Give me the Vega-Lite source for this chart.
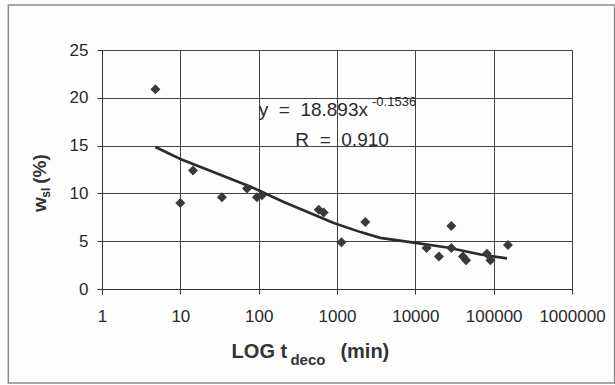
{
  "$schema": "https://vega.github.io/schema/vega-lite/v6.json",
  "width": 470,
  "height": 239,
  "autosize": {"type": "none"},
  "padding": {"left": 102, "top": 50, "right": 43, "bottom": 96},
  "background": "#fdfdfd",
  "config": {
    "view": {"stroke": "#333333", "strokeWidth": 1},
    "axis": {
      "labelFont": "Liberation Sans",
      "labelFontSize": 17,
      "labelColor": "#2a2a2a",
      "gridColor": "#444444",
      "gridWidth": 1,
      "gridOpacity": 1,
      "domainColor": "#333333",
      "tickColor": "#333333",
      "tickSize": 5
    },
    "text": {"font": "Liberation Sans", "color": "#2a2a2a"}
  },
  "datasets": {
    "pts": [
      {"t": 4.8, "w": 20.9}, {"t": 10, "w": 9.0}, {"t": 14.5, "w": 12.4},
      {"t": 34, "w": 9.6}, {"t": 71, "w": 10.5}, {"t": 95, "w": 9.6},
      {"t": 110, "w": 9.8}, {"t": 585, "w": 8.3}, {"t": 676, "w": 8.0},
      {"t": 1140, "w": 4.9}, {"t": 2300, "w": 7.0}, {"t": 13900, "w": 4.3},
      {"t": 20000, "w": 3.4}, {"t": 28800, "w": 6.6}, {"t": 28800, "w": 4.3},
      {"t": 40500, "w": 3.4}, {"t": 44400, "w": 3.0}, {"t": 82000, "w": 3.7},
      {"t": 91000, "w": 3.0}, {"t": 152000, "w": 4.6}
    ],
    "fit": [
      {"t": 4.8, "w": 14.85}, {"t": 10, "w": 13.6}, {"t": 79, "w": 10.7},
      {"t": 209, "w": 9.1}, {"t": 910, "w": 6.9}, {"t": 2000, "w": 5.95},
      {"t": 3560, "w": 5.35}, {"t": 9550, "w": 4.85}, {"t": 25600, "w": 4.35},
      {"t": 68000, "w": 3.6}, {"t": 148000, "w": 3.2}
    ]
  },
  "layer": [
    {
      "data": {"values": [{"x1": 0.0637, "x2": 3500000, "y1": 29.7, "y2": -9.83}]},
      "mark": {"type": "rect", "fillOpacity": 0, "stroke": "#8a8a8a", "strokeWidth": 1.5},
      "encoding": {
        "x": {"field": "x1", "type": "quantitative", "scale": {"type": "log", "domain": [1, 1000000], "nice": false},
              "axis": {"title": null, "values": [1, 10, 100, 1000, 10000, 100000, 1000000], "format": "d", "grid": true, "labelPadding": 14, "labelFlush": false}},
        "x2": {"field": "x2"},
        "y": {"field": "y1", "type": "quantitative", "scale": {"domain": [0, 25], "nice": false, "zero": false},
              "axis": {"title": null, "values": [0, 5, 10, 15, 20, 25], "grid": true, "labelPadding": 9}},
        "y2": {"field": "y2"}
      }
    },
    {
      "data": {"name": "fit"},
      "mark": {"type": "line", "color": "#2b2b2b", "strokeWidth": 2.6, "interpolate": "linear"},
      "encoding": {
        "x": {"field": "t", "type": "quantitative"},
        "y": {"field": "w", "type": "quantitative"}
      }
    },
    {
      "data": {"name": "pts"},
      "mark": {"type": "point", "shape": "diamond", "filled": true, "size": 100, "color": "#3a3a3a", "opacity": 1},
      "encoding": {
        "x": {"field": "t", "type": "quantitative"},
        "y": {"field": "w", "type": "quantitative"}
      }
    },
    {
      "data": {"values": [
        {"t": 100, "w": 18.72, "label": "y\u00a0\u00a0=\u00a0\u00a018.893x", "size": 19},
        {"t": 2800, "w": 19.55, "label": "-0.1536", "size": 13},
        {"t": 294, "w": 15.6, "label": "R\u00a0\u00a0=\u00a0\u00a00.910", "size": 19}
      ]},
      "mark": {"type": "text", "baseline": "middle", "align": "left"},
      "encoding": {
        "x": {"field": "t", "type": "quantitative"},
        "y": {"field": "w", "type": "quantitative"},
        "text": {"field": "label"},
        "size": {"field": "size", "type": "quantitative", "scale": null}
      }
    },
    {
      "data": {"values": [
        {"t": 231, "w": -6.59, "label": "LOG t"}
      ]},
      "mark": {"type": "text", "baseline": "middle", "align": "right", "fontWeight": "bold", "fontSize": 20, "color": "#333333"},
      "encoding": {
        "x": {"field": "t", "type": "quantitative"},
        "y": {"field": "w", "type": "quantitative"},
        "text": {"field": "label"}
      }
    },
    {
      "data": {"values": [
        {"t": 254, "w": -7.45, "label": "deco", "size": 15},
        {"t": 1105, "w": -6.59, "label": "(min)", "size": 20}
      ]},
      "mark": {"type": "text", "baseline": "middle", "align": "left", "fontWeight": "bold", "color": "#333333"},
      "encoding": {
        "x": {"field": "t", "type": "quantitative"},
        "y": {"field": "w", "type": "quantitative"},
        "text": {"field": "label"},
        "size": {"field": "size", "type": "quantitative", "scale": null}
      }
    },
    {
      "data": {"values": [
        {"t": 0.163, "w": 8.05, "label": "w", "size": 19},
        {"t": 0.19, "w": 9.55, "label": "sl", "size": 12},
        {"t": 0.163, "w": 11.0, "label": "(%)", "size": 19}
      ]},
      "mark": {"type": "text", "baseline": "middle", "align": "left", "angle": 270, "fontWeight": "bold", "color": "#333333"},
      "encoding": {
        "x": {"field": "t", "type": "quantitative"},
        "y": {"field": "w", "type": "quantitative"},
        "text": {"field": "label"},
        "size": {"field": "size", "type": "quantitative", "scale": null}
      }
    }
  ]
}
